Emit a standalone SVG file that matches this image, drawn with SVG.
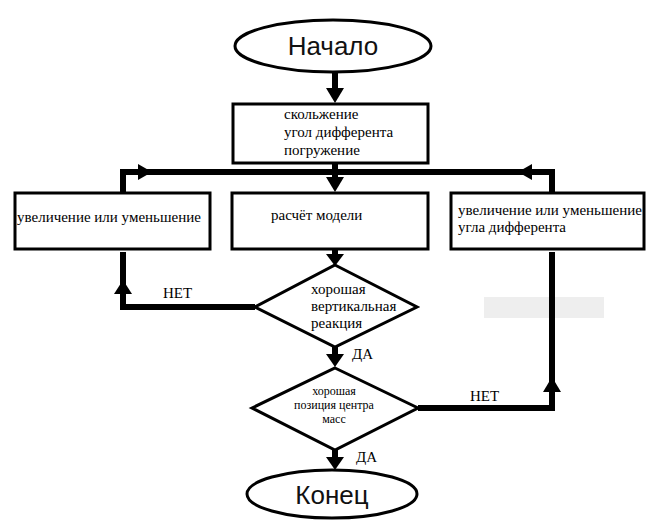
<svg xmlns="http://www.w3.org/2000/svg" width="646" height="520" viewBox="0 0 646 520">
<style>
.shape{fill:#fff;stroke:#000;stroke-width:3}
.line{fill:none;stroke:#000;stroke-width:6}
.head{fill:#000}
.t{font-family:"Liberation Serif","DejaVu Serif","Times New Roman",serif;font-size:15px;fill:#000}
.s{font-size:12px;text-anchor:middle}
.big{font-family:"Liberation Sans",Arial,sans-serif;font-size:26px;fill:#111;text-anchor:middle}
</style>
<rect width="646" height="520" fill="#fff"/>
<rect x="484" y="297" width="120" height="21" fill="#eeeeee"/>
<g id="connectors">
<path class="line" d="M335,72 V92"/>
<polygon class="head" points="326,88 344,88 335,103"/>
<path class="line" d="M335,163 V180"/>
<polygon class="head" points="326,177 344,177 335,192"/>
<path class="line" d="M123,193 V172 H552 V193"/>
<polygon class="head" points="138,164 138,180 152,172"/>
<polygon class="head" points="532,164 532,180 518,172"/>
<path class="line" d="M255,307 H123 V252"/>
<polygon class="head" points="114,294 132,294 123,280"/>
<path class="line" d="M335,347 V358"/>
<polygon class="head" points="326,354 344,354 335,367"/>
<path class="line" d="M418,408 H552 V252"/>
<polygon class="head" points="543,392 561,392 552,377"/>
<path class="line" d="M335,450 V461"/>
<polygon class="head" points="326,457 344,457 335,470"/>
<path class="line" d="M335,249 V257"/>
<polygon class="head" points="326,254 344,254 335,266"/>
<text class="t" x="163" y="298">НЕТ</text>
<text class="t" x="470" y="401">НЕТ</text>
<text class="t" x="352" y="359">ДА</text>
<text class="t" x="356" y="462">ДА</text>
</g>
<g id="start">
<ellipse class="shape" cx="333" cy="46" rx="98" ry="26"/>
<text class="big" x="333" y="55">Начало</text>
</g>
<g id="params">
<rect class="shape" x="233" y="104" width="195" height="59"/>
<text class="t" x="284" y="119">скольжение</text>
<text class="t" x="284" y="137">угол дифферента</text>
<text class="t" x="284" y="155">погружение</text>
</g>
<g id="left">
<rect class="shape" x="15" y="193" width="195" height="56"/>
<text class="t" x="17" y="222">увеличение или уменьшение</text>
</g>
<g id="model">
<rect class="shape" x="232" y="193" width="196" height="56"/>
<text class="t" x="271" y="220">расчёт модели</text>
</g>
<g id="right">
<rect class="shape" x="451" y="193" width="193" height="56"/>
<text class="t" x="458" y="215">увеличение или уменьшение</text>
<text class="t" x="458" y="232">угла дифферента</text>
</g>
<g id="vert">
<polygon class="shape" points="335,265 417,307 335,347 255,307"/>
<text class="t" x="311" y="294">хорошая</text>
<text class="t" x="311" y="311">вертикальная</text>
<text class="t" x="311" y="328">реакция</text>
</g>
<g id="mass">
<polygon class="shape" points="335,368 418,408 335,450 252,408"/>
<text class="t s" x="334" y="395">хорошая</text>
<text class="t s" x="334" y="409">позиция центра</text>
<text class="t s" x="334" y="423">масс</text>
</g>
<g id="end">
<ellipse class="shape" cx="332" cy="494" rx="85" ry="24"/>
<text class="big" x="332" y="504">Конец</text>
</g>
</svg>
